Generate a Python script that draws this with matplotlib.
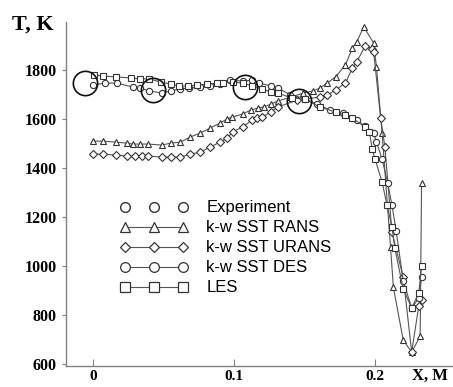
import matplotlib
matplotlib.use("Agg")
import matplotlib.pyplot as plt
from matplotlib.lines import Line2D

# Measured temperature
exp_x = [-0.006, 0.0426, 0.108, 0.146]
exp_T = [1750, 1720, 1730, 1676]

# k-w SST RANS
rans_x = [0.0, 0.007, 0.016, 0.024, 0.028, 0.033, 0.039, 0.049, 0.055, 0.062,
          0.069, 0.076, 0.083, 0.090, 0.095, 0.0986, 0.106, 0.112, 0.117, 0.121,
          0.126, 0.131, 0.140, 0.149, 0.156, 0.161, 0.166, 0.172, 0.179, 0.184,
          0.187, 0.192, 0.199, 0.201, 0.205, 0.211, 0.213, 0.220, 0.226, 0.232,
          0.233]
rans_T = [1511, 1511, 1507, 1503, 1499, 1499, 1499, 1495, 1503, 1507,
          1528, 1544, 1564, 1585, 1601, 1609, 1622, 1638, 1646, 1650,
          1662, 1675, 1690, 1707, 1716, 1728, 1748, 1773, 1822, 1891,
          1916, 1977, 1911, 1814, 1544, 1078, 915, 699, 650, 715,
          1340]

# k-w SST URANS
urans_x = [0.0, 0.007, 0.016, 0.024, 0.030, 0.035, 0.039, 0.049, 0.055, 0.062,
           0.069, 0.076, 0.083, 0.090, 0.095, 0.099, 0.106, 0.113, 0.116, 0.120,
           0.126, 0.131, 0.145, 0.161, 0.166, 0.172, 0.179, 0.184, 0.187, 0.193,
           0.198, 0.199, 0.204, 0.207, 0.212, 0.220, 0.226, 0.231, 0.233]
urans_T = [1458, 1458, 1454, 1450, 1450, 1450, 1450, 1446, 1446, 1446,
           1458, 1466, 1487, 1507, 1523, 1548, 1569, 1597, 1605, 1609,
           1630, 1650, 1679, 1691, 1699, 1720, 1748, 1810, 1834, 1900,
           1887, 1875, 1605, 1487, 1140, 956, 650, 838, 862]

# k-w SST DES
des_x = [0.0, 0.0085, 0.017, 0.028, 0.033, 0.040, 0.049, 0.055, 0.062, 0.068,
         0.076, 0.083, 0.090, 0.097, 0.106, 0.113, 0.118, 0.126, 0.131, 0.140,
         0.150, 0.159, 0.168, 0.177, 0.187, 0.193, 0.199, 0.201, 0.205, 0.209,
         0.212, 0.215, 0.220, 0.226, 0.231, 0.233]
des_T = [1740, 1748, 1748, 1732, 1728, 1716, 1707, 1716, 1724, 1728,
         1732, 1736, 1744, 1760, 1756, 1760, 1748, 1736, 1728, 1700,
         1685, 1662, 1638, 1626, 1597, 1572, 1544, 1507, 1438, 1340,
         1250, 1144, 940, 830, 870, 956]

# LES
les_x = [0.0007, 0.007, 0.016, 0.027, 0.033, 0.040, 0.048, 0.055, 0.061, 0.067,
         0.074, 0.081, 0.088, 0.092, 0.099, 0.106, 0.113, 0.120, 0.126, 0.131,
         0.141, 0.150, 0.161, 0.172, 0.179, 0.184, 0.193, 0.196, 0.198, 0.200,
         0.205, 0.2085, 0.212, 0.214, 0.220, 0.226, 0.231, 0.233]
les_T = [1781, 1777, 1773, 1769, 1765, 1765, 1752, 1744, 1736, 1736,
         1740, 1744, 1748, 1748, 1752, 1748, 1736, 1724, 1711, 1707,
         1687, 1683, 1650, 1630, 1617, 1605, 1568, 1548, 1479, 1438,
         1344, 1250, 1160, 1075, 908, 830, 891, 1001]

labels = ["Experiment", "k-w SST RANS", "k-w SST URANS", "k-w SST DES", "LES"]
y_ticks = [600, 800, 1000, 1200, 1400, 1600, 1800]
x_ticks = [0, 0.1, 0.2]
x_ticklabels = ["0", "0.1", "0.2"]

serif = ["Liberation Serif", "DejaVu Serif"]
sans = ["Liberation Sans", "DejaVu Sans"]

fig = plt.figure(figsize=(4.53, 3.87), dpi=100)
ax = fig.add_axes([0.146, 0.054, 0.854, 0.889])

line_c = "#555555"
mk_c = "#333333"
common = dict(color=line_c, lw=0.8, mfc="white", mec=mk_c, mew=0.8)

ax.plot(rans_x, rans_T, marker="^", ms=5, **common)
ax.plot(urans_x, urans_T, marker="D", ms=3.6, **common)
ax.plot(des_x, des_T, marker="o", ms=4.5, **common)
ax.plot(les_x, les_T, marker="s", ms=5, **common)
ax.plot(exp_x, exp_T, ls="none", marker="o", ms=17.5, mfc="none",
        mec="#111111", mew=1.2)

ax.set_xlim(-0.0191, 0.2553)
ax.set_ylim(593, 1997)

for side in ("top", "right"):
    ax.spines[side].set_visible(False)
for side in ("left", "bottom"):
    ax.spines[side].set_color("#808080")
    ax.spines[side].set_linewidth(1.0)

ax.set_yticks(y_ticks)
ax.set_xticks(x_ticks)
ax.set_xticklabels(x_ticklabels)
ax.tick_params(axis="y", direction="out", length=3, color="#808080", pad=4)
ax.tick_params(axis="x", direction="in", length=5, color="#808080", pad=2.5)
for lab in ax.get_yticklabels():
    lab.set_fontfamily(serif)
    lab.set_fontweight("bold")
    lab.set_fontsize(11.5)
for lab in ax.get_xticklabels():
    lab.set_fontfamily(serif)
    lab.set_fontweight("bold")
    lab.set_fontsize(11)

fig.text(0.026, 0.923, "T, K", fontfamily=serif, fontweight="bold",
         fontsize=16, ha="left", va="baseline")
fig.text(0.910, 0.018, "X, M", fontfamily=serif, fontweight="bold",
         fontsize=12, ha="left", va="baseline")

# Legend entries
lg_kw = dict(color=line_c, lw=0.8, mfc="white", mec=mk_c, mew=0.9)
handles = [
    Line2D([], [], ls="none", marker="o", ms=7, mfc="white", mec=mk_c, mew=1.0),
    Line2D([], [], marker="^", ms=7, **lg_kw),
    Line2D([], [], marker="D", ms=5.5, **lg_kw),
    Line2D([], [], marker="o", ms=7, **lg_kw),
    Line2D([], [], marker="s", ms=7, **lg_kw),
]
leg = ax.legend(handles, labels, loc="upper left",
                bbox_to_anchor=(0.1, 0.525), frameon=False, numpoints=3,
                handlelength=4.1, handletextpad=1.1, labelspacing=0.3,
                prop={"family": sans, "size": 12})

fig.savefig("out.png", dpi=100)
